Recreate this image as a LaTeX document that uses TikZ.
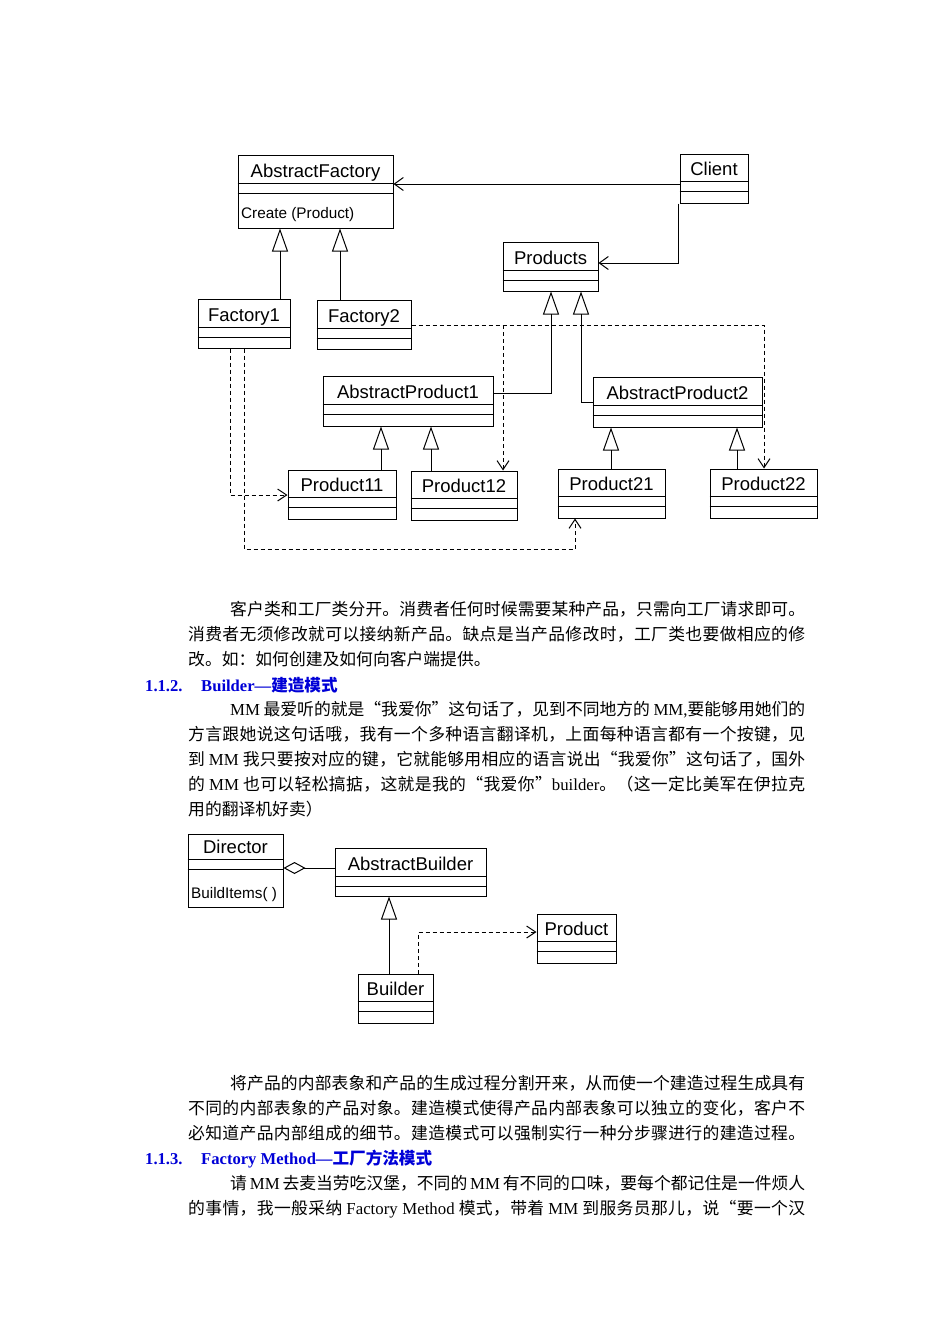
\documentclass[tikz,border=0pt]{standalone}
\usepackage{fontspec}
\setmainfont{Liberation Serif}
\newfontfamily\cjk{Noto Sans CJK SC}
\newfontfamily\umlfont{Liberation Sans}
\usetikzlibrary{arrows.meta}
\definecolor{headblue}{RGB}{0,0,215}
% stretchable glue between CJK characters, so that lines can be justified
\newXeTeXintercharclass\cjkclass
\newcount\cjkcnt
\cjkcnt="4E00
\loop\XeTeXcharclass\cjkcnt=\cjkclass\advance\cjkcnt by 1 \ifnum\cjkcnt<"A000 \repeat
\cjkcnt="3000
\loop\XeTeXcharclass\cjkcnt=\cjkclass\advance\cjkcnt by 1 \ifnum\cjkcnt<"3040 \repeat
\cjkcnt="FF00
\loop\XeTeXcharclass\cjkcnt=\cjkclass\advance\cjkcnt by 1 \ifnum\cjkcnt<"FFF0 \repeat
\XeTeXcharclass"201C=\cjkclass
\XeTeXcharclass"201D=\cjkclass
\XeTeXinterchartoks\cjkclass\cjkclass={\hskip 0pt plus 2pt\relax}
\XeTeXinterchartokenstate=1
\newcommand\en[1]{{\rmfamily #1}}
\tikzset{
  cls/.style={draw, line width=1pt, inner sep=0pt, fill=white},
  conn/.style={line width=1pt},
  umlname/.style={font=\umlfont\fontsize{18.5}{20}\selectfont, inner sep=0pt, anchor=base},
  umlop/.style={font=\umlfont\fontsize{15.3}{17}\selectfont, inner sep=0pt, anchor=base west},
  inh/.style={conn, -{Triangle[open, length=23pt, width=16pt]}},
  assoc/.style={conn, -{Straight Barb[length=9pt, width=13pt]}},
  dep/.style={conn, dash pattern=on 4pt off 3pt, -{Straight Barb[length=9pt, width=12pt]}},
  agg/.style={conn, {Diamond[open, length=22pt, width=12pt]}-},
  body/.style={anchor=base west, inner sep=0pt, font=\cjk\fontsize{16.8}{20}\selectfont},
  head/.style={anchor=base west, inner sep=0pt, text=headblue, font=\bfseries\fontsize{16.6}{20}\selectfont},
}
% name, x1, y1, x2, y2, sep1, sep2, label
\newcommand\umlcls[8]{%
  \node[cls, minimum width={(#4-#2)*1pt}, minimum height={(#5-#3)*1pt}] (#1) at ({(#2+#4)/2},{(#3+#5)/2}) {};
  \draw[conn] (#1.west |- 0,#6) -- (#1.east |- 0,#6);
  \draw[conn] (#1.west |- 0,#7) -- (#1.east |- 0,#7);
  \node[umlname] (#1-name) at ({(#2+#4)/2},{#6-5.5}) {#8};
}
\newcommand\fline[4]{\node[body] (#1) at (188,#2) {\makebox[#3pt][s]{#4}};}
\newcommand\iline[3]{\node[body] (#1) at (230,#2) {\makebox[575pt][s]{#3}};}
\newcommand\nline[3]{\node[body] (#1) at (188,#2) {#3};}
\begin{document}
\begin{tikzpicture}[x=1pt, y=-1pt]
\fill[white] (0,0) rectangle (950,1344);
\useasboundingbox (0,0) rectangle (950,1344);

% ---------- Abstract factory diagram ----------
\umlcls{af}{238}{155}{393}{228}{183}{193}{AbstractFactory}
\node[umlop] (af-op) at (241,218.5) {Create (Product)};
\umlcls{client}{680}{154}{748}{203}{181}{191}{Client}
\umlcls{products}{503}{242}{598}{291}{270}{280}{Products}
\umlcls{f1}{198}{299}{290}{348}{327}{337}{Factory1}
\umlcls{f2}{317}{300}{411}{349}{328}{338}{Factory2}
\umlcls{ap1}{323}{376}{493}{426}{404}{414}{AbstractProduct1}
\umlcls{ap2}{593}{377}{762}{427}{405}{415}{AbstractProduct2}
\umlcls{p11}{288}{470}{396}{519}{497}{507}{Product11}
\umlcls{p12}{411}{471}{517}{520}{498}{508}{Product12}
\umlcls{p21}{558}{469}{665}{518}{496}{506}{Product21}
\umlcls{p22}{710}{469}{817}{518}{496}{506}{Product22}

\draw[assoc] (client.west |- 0,184) -- (af.east |- 0,184);
\draw[assoc] (678,0 |- client.south) -- (678,263) -- (products.east |- 0,263);
\draw[inh] (280,0 |- f1.north) -- (280,0 |- af.south);
\draw[inh] (340,0 |- f2.north) -- (340,0 |- af.south);
\draw[inh] (ap1.east |- 0,393) -- (551,393) -- (551,0 |- products.south);
\draw[inh] (ap2.west |- 0,402) -- (581,402) -- (581,0 |- products.south);
\draw[inh] (381,0 |- p11.north) -- (381,0 |- ap1.south);
\draw[inh] (431,0 |- p12.north) -- (431,0 |- ap1.south);
\draw[inh] (611,0 |- p21.north) -- (611,0 |- ap2.south);
\draw[inh] (737,0 |- p22.north) -- (737,0 |- ap2.south);

\coordinate (split) at (503,325);
\draw[dep] (f2.east |- 0,325) -- (764,325) -- (764,0 |- p22.north);
\draw[dep] (split) -- (503,0 |- p12.north);
\draw[dep] (230,0 |- f1.south) -- (230,495) -- (p11.west |- 0,495);
\draw[dep] (244,0 |- f1.south) -- (244,549) -- (575,549) -- (575,0 |- p21.south);

% ---------- text ----------
\iline{t1}{615.5}{客户类和工厂类分开。消费者任何时候需要某种产品，只需向工厂请求即可。}
\fline{t2}{640.5}{617}{消费者无须修改就可以接纳新产品。缺点是当产品修改时，工厂类也要做相应的修}
\nline{t3}{665.5}{改。如：如何创建及如何向客户端提供。}
\node[head] (h1n) at (145,691) {1.1.2.};
\node[head] (h1t) at (201,691) {Builder—{\cjk 建造模式}};
\iline{t4}{715.5}{\en{MM} 最爱听的就是“我爱你”这句话了，见到不同地方的 \en{MM,}要能够用她们的}
\fline{t5}{740.5}{617}{方言跟她说这句话哦，我有一个多种语言翻译机，上面每种语言都有一个按键，见}
\fline{t6}{765.5}{617}{到 \en{MM} 我只要按对应的键，它就能够用相应的语言说出“我爱你”这句话了，国外}
\fline{t7}{790.5}{617}{的 \en{MM} 也可以轻松搞掂，这就是我的“我爱你”\en{builder}。（这一定比美军在伊拉克}
\nline{t8}{815.5}{用的翻译机好卖）}

% ---------- Builder diagram ----------
\umlcls{director}{188}{834}{283}{907}{859}{869}{Director}
\node[umlop] (director-op) at (191,898.5) {BuildItems( )};
\umlcls{abuilder}{335}{848}{486}{896}{876}{886}{AbstractBuilder}
\umlcls{builder}{358}{974}{433}{1023}{1001}{1011}{Builder}
\umlcls{product}{537}{914}{616}{963}{941}{951}{Product}
\draw[agg] (director.east |- 0,868) -- (abuilder.west |- 0,868);
\draw[inh] (389,0 |- builder.north) -- (389,0 |- abuilder.south);
\draw[dep] (418,0 |- builder.north) -- (418,932) -- (product.west |- 0,932);

% ---------- text ----------
\iline{t9}{1089.5}{将产品的内部表象和产品的生成过程分割开来，从而使一个建造过程生成具有}
\fline{t10}{1114.5}{617}{不同的内部表象的产品对象。建造模式使得产品内部表象可以独立的变化，客户不}
\fline{t11}{1139.5}{617}{必知道产品内部组成的细节。建造模式可以强制实行一种分步骤进行的建造过程。}
\node[head] (h2n) at (145,1164) {1.1.3.};
\node[head] (h2t) at (201,1164) {Factory Method—{\cjk 工厂方法模式}};
\iline{t12}{1189.5}{请 \en{MM} 去麦当劳吃汉堡，不同的 \en{MM} 有不同的口味，要每个都记住是一件烦人}
\fline{t13}{1214.5}{617}{的事情，我一般采纳 \en{Factory Method} 模式，带着 \en{MM} 到服务员那儿，说“要一个汉}
\end{tikzpicture}
\end{document}
